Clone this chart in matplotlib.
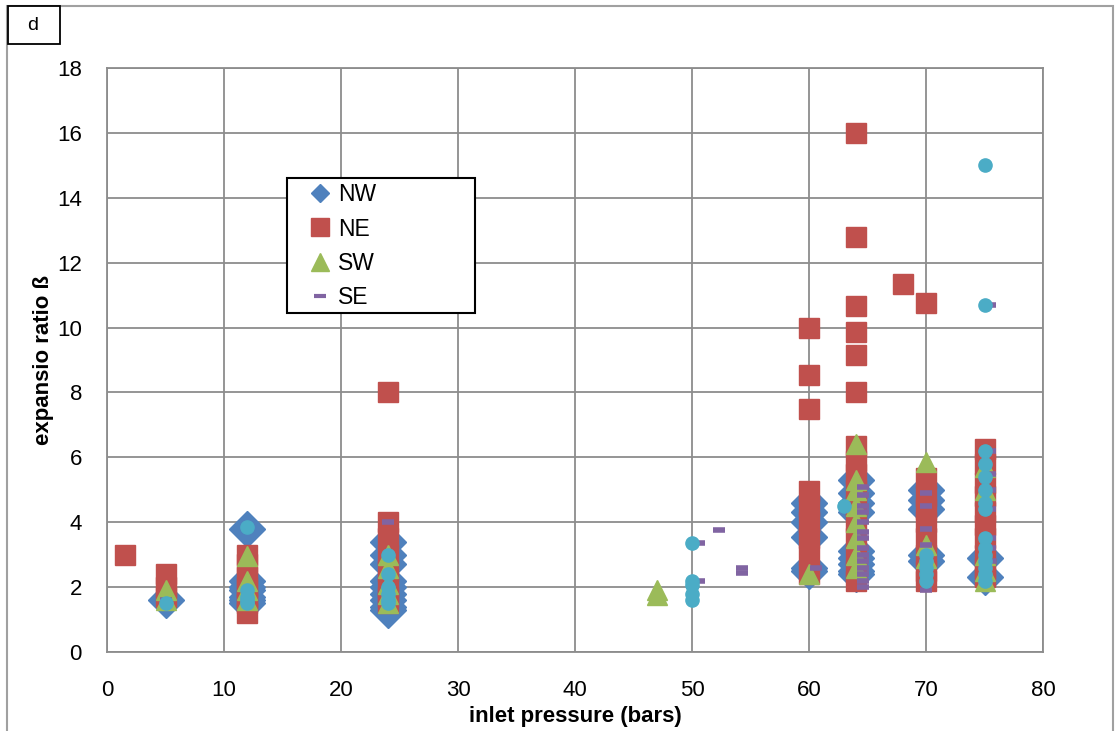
import matplotlib
matplotlib.use('Agg')
import matplotlib.pyplot as plt
from matplotlib.patches import Rectangle

plt.rcParams['font.family'] = ['Liberation Sans', 'DejaVu Sans']

# NW
nw_x = [5, 12, 12, 12, 12, 12, 12, 12,
        24, 24, 24, 24, 24, 24, 24, 24, 24,
        60, 60, 60, 60, 60, 60,
        64, 64, 64, 64, 64, 64, 64, 64, 64,
        70, 70, 70, 70, 70, 75, 75]
nw_y = [1.6, 3.8, 2.2, 2.0, 1.9, 1.7, 1.6, 1.5,
        3.4, 3.0, 2.7, 2.2, 2.0, 1.8, 1.6, 1.4, 1.3,
        4.6, 4.3, 4.0, 3.55, 2.6, 2.5,
        5.3, 4.9, 4.6, 4.3, 3.1, 2.9, 2.7, 2.5, 2.4,
        5.0, 4.7, 4.4, 3.0, 2.8, 2.9, 2.3]
# NE
ne_x = [1.5, 5, 5, 5,
        12, 12, 12, 12, 12, 12, 12,
        24, 24, 24, 24, 24, 24, 24, 24,
        60, 60, 60, 60, 60, 60, 60, 60, 60,
        64, 64, 64, 64, 64, 64, 64, 64, 64, 64, 64, 64, 64, 64, 64, 64,
        68,
        70, 70, 70, 70, 70, 70, 70, 70, 70,
        75, 75, 75, 75, 75, 75, 75, 75, 75, 75]
ne_y = [3.0, 2.4, 2.0, 1.7,
        3.0, 2.7, 2.3, 2.0, 1.7, 1.5, 1.2,
        8.0, 4.0, 3.5, 3.0, 2.5, 2.0, 1.7, 1.5,
        10.0, 8.55, 7.5, 4.95, 4.5, 4.0, 3.5, 3.0, 2.4,
        16.0, 12.8, 10.65, 9.85, 9.15, 8.0, 6.35, 5.9, 5.5, 5.0, 4.5, 4.0, 3.5, 3.0, 2.5, 2.2,
        11.35,
        10.75, 5.35, 4.8, 4.4, 4.0, 3.5, 3.0, 2.5, 2.2,
        6.25, 5.8, 5.2, 4.8, 4.3, 3.9, 3.5, 3.0, 2.6, 2.3]
# SW
sw_x = [5, 5, 12, 12, 12, 12,
        24, 24, 24, 24, 24,
        47, 47, 60,
        64, 64, 64, 64, 64, 64, 64, 64,
        70, 70, 70,
        75, 75, 75, 75, 75]
sw_y = [1.9, 1.6, 2.95, 2.2, 1.9, 1.6,
        3.0, 2.6, 2.1, 1.8, 1.5,
        1.9, 1.75, 2.4,
        6.4, 5.3, 5.0, 4.5, 4.0, 3.5, 3.0, 2.6,
        5.85, 3.3, 2.9,
        5.7, 5.0, 3.0, 2.5, 2.2]
# SE
se_x = [5, 12, 12, 12, 24, 24, 24,
        50.6, 50.6, 52.3, 54.3, 54.3, 60.6,
        64.6, 64.6, 64.6, 64.6, 64.6, 64.6, 64.6, 64.6, 64.6, 64.6, 64.6, 64.6, 64.6, 64.6,
        70, 70, 70, 70, 70, 70,
        75.5, 75.5, 75.5, 75.5, 75.5, 75.5, 75.5, 75.5]
se_y = [1.6, 1.8, 1.6, 1.5, 4.0, 1.8, 1.5,
        3.35, 2.2, 3.75, 2.45, 2.6, 2.6,
        5.1, 4.85, 4.5, 4.3, 4.0, 3.7, 3.5, 3.2, 3.0, 2.8, 2.6, 2.4, 2.2, 2.0,
        4.9, 4.5, 3.8, 3.3, 2.9, 1.9,
        10.7, 6.2, 5.5, 5.0, 4.4, 3.5, 3.2, 2.8]
# unlabelled series (cyan)
s5_x = [5, 12, 12, 12, 12, 12,
        24, 24, 24, 24, 24, 24,
        50, 50, 50, 50, 50,
        63, 70, 70, 70, 70, 70,
        75, 75, 75, 75, 75, 75, 75, 75, 75, 75, 75, 75, 75, 75, 75]
s5_y = [1.5, 3.85, 1.9, 1.7, 1.6, 1.5,
        3.0, 2.4, 2.0, 1.8, 1.6, 1.5,
        3.35, 2.2, 2.05, 1.8, 1.6,
        4.5, 3.0, 2.8, 2.6, 2.4, 2.2,
        15.0, 10.7, 6.2, 5.8, 5.4, 5.0, 4.6, 4.4, 3.5, 3.2, 3.0, 2.8, 2.6, 2.4, 2.2]

fig = plt.figure(figsize=(11.18, 7.31), dpi=100)
ax = fig.add_axes([107 / 1118, 1 - 652 / 731, 936 / 1118, 584 / 731])

ax.plot(nw_x, nw_y, 'D', ms=18, color='#4F81BD', mec='#4F81BD', label='NW', zorder=3)
ax.plot(ne_x, ne_y, 's', ms=14.5, color='#C0504D', mec='#C0504D', label='NE', zorder=4)
ax.plot(sw_x, sw_y, '^', ms=15, color='#9BBB59', mec='#9BBB59', label='SW', zorder=5)
ax.plot(se_x, se_y, '_', ms=9, mew=4, color='#8064A2', label='SE', zorder=6)
ax.plot(s5_x, s5_y, 'o', ms=9.5, color='#4BACC6', mec='#4BACC6', zorder=7)

ax.set_xlim(0, 80)
ax.set_ylim(0, 18)
ax.set_xticks(range(0, 81, 10))
ax.set_yticks(range(0, 19, 2))
ax.grid(True, color='#8c8c8c', lw=1.3)
ax.set_axisbelow(True)
for s in ax.spines.values():
    s.set_color('#8c8c8c')
    s.set_linewidth(1.3)
ax.tick_params(length=0, labelsize=16)
ax.tick_params(axis='x', pad=20)
ax.tick_params(axis='y', pad=18)
ax.set_xlabel('inlet pressure (bars)', fontsize=16, fontweight='bold', labelpad=4)
ax.set_ylabel('expansio ratio ß', fontsize=16, fontweight='bold', labelpad=2)

# legend: entries without frame, box drawn separately
leg = ax.legend(loc='upper left', bbox_to_anchor=(0.2158, 0.803), fontsize=16.5,
                frameon=False, borderpad=0, borderaxespad=0,
                handlelength=1.0, handletextpad=0.25, labelspacing=0.5)
for h, ms in zip(leg.legend_handles, [9.2, 13, 13, 8]):
    h.set_markersize(ms)
leg.legend_handles[3].set_markeredgewidth(3)
leg.set_zorder(11)
ax.add_patch(Rectangle((180 / 936, (652 - 313) / 584), 188 / 936, 135 / 584,
                       transform=ax.transAxes, fc='white', ec='black', lw=1.5,
                       zorder=10))

# outer chart border and panel label
fig.add_artist(Rectangle((7 / 1118, -0.01), 1106 / 1118, 1 - 6 / 731 + 0.01,
                         transform=fig.transFigure, fill=False, ec='#a0a0a0', lw=1.5))
fig.add_artist(Rectangle((8 / 1118, 1 - 44 / 731), 52 / 1118, 38 / 731,
                         transform=fig.transFigure, fc='white', ec='black', lw=1.3))
fig.text(33 / 1118, 1 - 25 / 731, 'd', fontsize=14, ha='center', va='center')

fig.savefig('out.png', dpi=100)
